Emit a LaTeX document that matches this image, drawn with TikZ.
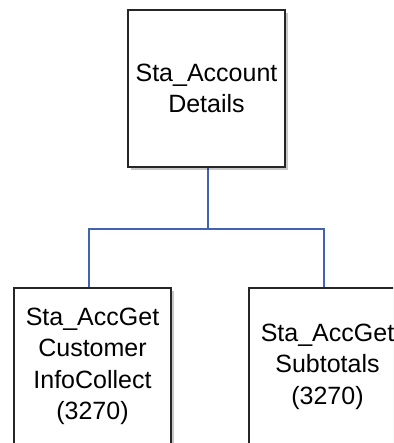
\documentclass[tikz,border=0pt]{standalone}
\usepackage{fontspec}
\setmainfont{Liberation Sans}
\usetikzlibrary{shadows,backgrounds}
\definecolor{linkblue}{RGB}{66,98,178}
\begin{document}
\begin{tikzpicture}[x=1pt,y=-1pt,
  card/.style={draw=black!85, line width=2pt, fill=white,
    minimum width=157pt, minimum height=157pt, inner sep=0pt,
    align=center, font=\fontsize{25}{31.5}\selectfont, anchor=north west,
    drop shadow={shadow xshift=3pt, shadow yshift=-3pt, opacity=0.22, fill=black}},
  link/.style={draw=linkblue, line width=2pt}]
\useasboundingbox (0,0) rectangle (393,443);
\clip (0,0) rectangle (393,443);

% boxes of the call tree
\node[card] (top) at (127,9) {Sta\_Account\\Details};
\node[card] (lt) at (13,287) {Sta\_AccGet\\Customer\\InfoCollect\\(3270)};
\node[card] (rt) at (248,287) {Sta\_AccGet\\Subtotals\\(3270)};

% junction points of the connector
\coordinate (hub) at (208,229);
\coordinate (lj) at (89,229);
\coordinate (rj) at (324,229);

\begin{scope}[on background layer]
  \draw[link] (top.south -| hub) -- (hub);
  \draw[link] (lj |- lt.north) -- (lj) -- (rj) -- (rj |- rt.north);
\end{scope}
\end{tikzpicture}
\end{document}
